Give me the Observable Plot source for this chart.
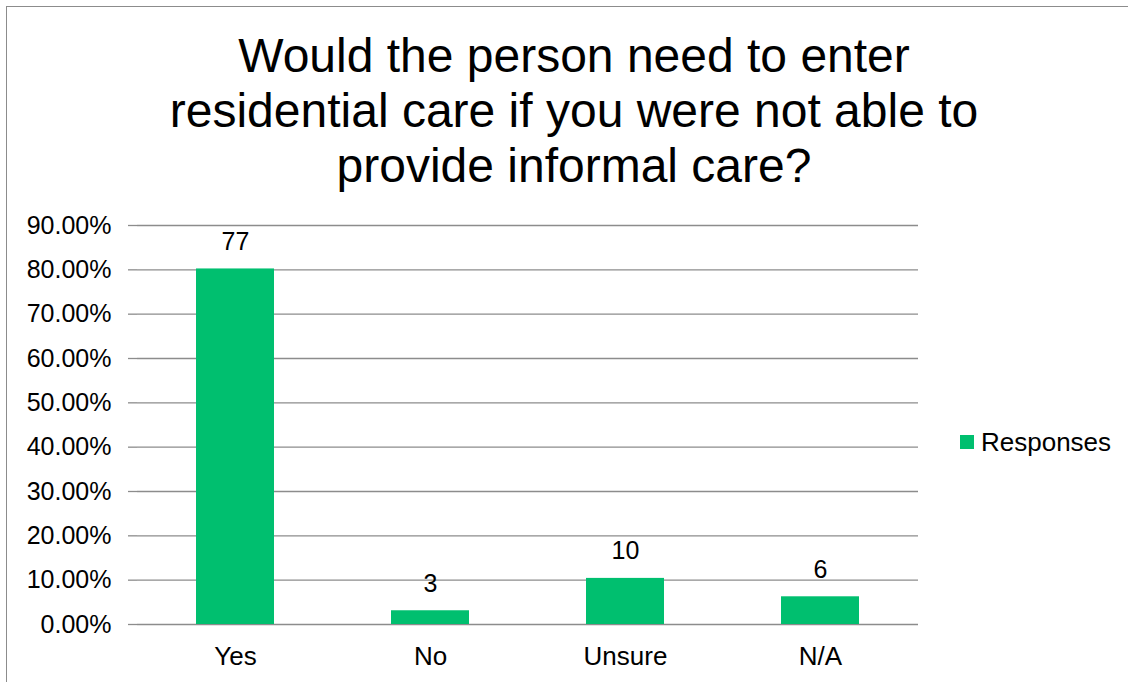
<!DOCTYPE html>
<html>
<head>
<meta charset="utf-8">
<script src="https://cdn.jsdelivr.net/npm/d3@7"></script>
<script src="https://cdn.jsdelivr.net/npm/@observablehq/plot@0.6"></script>
<style>
  html, body { margin: 0; padding: 0; background: #fff; }
  #wrap { position: relative; width: 1128px; height: 682px; overflow: hidden; background: #fff;
          font-family: "Liberation Sans", Arial, sans-serif; color: #000; }
  #frame { position: absolute; left: 6px; top: 6px; width: 1140px; height: 700px;
           border: 1.5px solid #8c8c8c; box-sizing: border-box; }
  #title { position: absolute; left: 0; top: 28px; width: 1148px; text-align: center;
           font-size: 48px; line-height: 55px; }
  #chart { position: absolute; left: 0; top: 200px; }
  #legend { position: absolute; left: 960px; top: 426px; font-size: 26px; line-height: 32px;
            display: flex; align-items: center; }
  #legend .sw { width: 14px; height: 14px; background: #00BF6F; margin-right: 7px; }
</style>
</head>
<body>
<div id="wrap">
  <div id="frame"></div>
  <div id="title">Would the person need to enter<br>residential care if you were not able to<br>provide informal care?</div>
  <div id="chart"></div>
  <div id="legend"><span class="sw"></span><span id="legendLabel"></span></div>
</div>
<script>
const categories = ["Yes", "No", "Unsure", "N/A"];
const percentages = [0.802, 0.031, 0.104, 0.0625];
const counts = [77, 3, 10, 6];
const yTicks = [0, 0.1, 0.2, 0.3, 0.4, 0.5, 0.6, 0.7, 0.8, 0.9];
const seriesName = "Responses";
const barColor = "#00BF6F";
const gridColor = "#8c8c8c";

document.getElementById("legendLabel").textContent = seriesName;

const data = categories.map((c, i) => ({category: c, pct: percentages[i], count: counts[i]}));

function boundaryTicks() {
  return (index, scales, values, dimensions) => {
    const x = scales.x;
    const g = d3.create("svg:g");
    const bw = typeof x.bandwidth === "function" ? x.bandwidth() : x.bandwidth;
    const step = typeof x.step === "function" ? x.step() : (x(categories[1]) - x(categories[0]));
    const y0 = scales.y(0);
    const top = scales.y(0.9);
    const bounds = categories.map(c => x(c) + bw / 2 - step / 2);
    bounds.push(x(categories[categories.length - 1]) + bw / 2 + step / 2);
    g.append("line").attr("x1", bounds[0]).attr("x2", bounds[0]).attr("y1", top).attr("y2", y0)
      .attr("stroke", gridColor).attr("stroke-width", 1.3);
    g.append("line").attr("x1", bounds[0]).attr("x2", bounds[bounds.length - 1]).attr("y1", y0).attr("y2", y0)
      .attr("stroke", gridColor).attr("stroke-width", 1.3);
    for (const b of bounds) {
      g.append("line").attr("x1", b).attr("x2", b).attr("y1", y0).attr("y2", y0 + 7)
        .attr("stroke", gridColor).attr("stroke-width", 1.3);
    }
    return g.node();
  };
}

const chart = Plot.plot({
  width: 1128,
  height: 482,
  marginLeft: 137,
  marginRight: 210,
  marginTop: 25,
  marginBottom: 58,
  style: {fontFamily: '"Liberation Sans", Arial, sans-serif', fontSize: "25px", color: "#000", background: "transparent", overflow: "visible"},
  x: {domain: categories, paddingInner: 0.6, paddingOuter: 0.3, label: null},
  y: {domain: [0, 0.9], label: null},
  marks: [
    Plot.gridY(yTicks, {stroke: gridColor, strokeOpacity: 1, strokeWidth: 1.3}),
    Plot.barY(data, {x: "category", y: "pct", fill: barColor}),
    Plot.axisY(yTicks, {tickFormat: d3.format(".2%"), tickSize: 9, tickPadding: 17, stroke: gridColor, strokeWidth: 1.3, fill: "#000", fontSize: 25, label: null}),
    Plot.axisX({tickSize: 0, tickPadding: 22, fill: "#000", fontSize: 26, label: null}),
    Plot.text([0], {render: boundaryTicks()}),
    Plot.text(data, {x: "category", y: "pct", text: "count", dy: -27, fontSize: 25, fill: "#000"})
  ]
});
document.getElementById("chart").appendChild(chart);
</script>
</body>
</html>
